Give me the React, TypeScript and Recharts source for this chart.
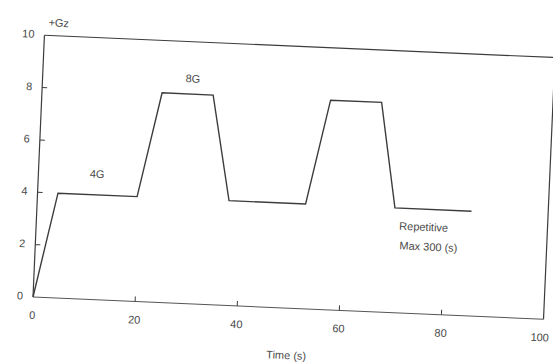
import React from "react";
import { LineChart, Line, XAxis, YAxis, ReferenceLine, ReferenceDot } from "recharts";

// G profile (time in s, +Gz level)
const timeSec = [0, 4, 19.5, 23.5, 33.5, 37.5, 52.5, 56.5, 66.5, 70, 85];
const gzLevel = [0, 4, 4, 8, 8, 4, 4, 8, 8, 4, 4];
const xTicks = [0, 20, 40, 60, 80, 100];
const yTicks = [0, 2, 4, 6, 8, 10];

const INK = "#3c3c3c";
const TEXT = "#4a4a4a";
const FONT = "'Liberation Sans', Arial, sans-serif";

const data = timeSec.map((t, i) => ({ t, g: gzLevel[i] }));

const YTick = (props: any) => {
    const { x, y, payload } = props;
    const v = payload.value;
    return (
        <g>
            {v > 0 && v < 10 && (
                <line x1={x} x2={x + 5} y1={y} y2={y} stroke={INK} strokeWidth={1} />
            )}
            <text x={x - 10} y={y} dy={3} textAnchor="end" fontSize={11} fill={TEXT} fontFamily={FONT}>
                {v}
            </text>
        </g>
    );
};

const XTick = (props: any) => {
    const { x, y, payload } = props;
    const v = payload.value;
    return (
        <g>
            {v > 0 && v < 100 && (
                <line x1={x} x2={x} y1={y} y2={y - 5} stroke={INK} strokeWidth={1} />
            )}
            <text x={x} y={y + 22} textAnchor="middle" fontSize={11} fill={TEXT} fontFamily={FONT}>
                {v}
            </text>
        </g>
    );
};

// text placed at a data point
const note = (text: string, anchor: "start" | "middle" | "end") => (props: any) => (
    <text
        x={props.cx}
        y={props.cy}
        dy={4}
        textAnchor={anchor}
        fontSize={11}
        fill={TEXT}
        fontFamily={FONT}
    >
        {text}
    </text>
);

export default function App() {
    return (
        <div
            style={{
                position: "absolute",
                left: 0,
                top: 0,
                width: 553,
                height: 363,
                overflow: "hidden",
                background: "#fff",
            }}
        >
            {/* the scan is slightly turned, so the whole chart is too */}
            <div style={{ transform: "rotate(2.5deg)", transformOrigin: "33px 297px" }}>
                <LineChart
                    width={553}
                    height={363}
                    data={data}
                    margin={{ top: 35, right: 9, left: 3, bottom: 12 }}
                >
                    <XAxis
                        dataKey="t"
                        type="number"
                        domain={[0, 100]}
                        ticks={xTicks}
                        tick={<XTick />}
                        tickSize={0}
                        tickMargin={0}
                        tickLine={false}
                        height={54}
                        axisLine={{ stroke: "#555", strokeWidth: 1 }}
                        label={{
                            value: "Time (s)",
                            position: "insideBottom",
                            offset: 3,
                            fontSize: 11,
                            fill: TEXT,
                            fontFamily: FONT,
                        }}
                    />
                    <YAxis
                        type="number"
                        domain={[0, 10]}
                        ticks={yTicks}
                        tick={<YTick />}
                        tickSize={0}
                        tickMargin={0}
                        tickLine={false}
                        width={30}
                        axisLine={{ stroke: INK, strokeWidth: 1.2 }}
                    />
                    <ReferenceLine y={10} stroke={INK} strokeWidth={1.2} />
                    <ReferenceLine x={100} stroke={INK} strokeWidth={1.2} />
                    <ReferenceDot x={0.7} y={10.5} r={0} ifOverflow="visible" shape={note("+Gz", "start")} />
                    <ReferenceDot x={11.5} y={4.8} r={0} ifOverflow="visible" shape={note("4G", "middle")} />
                    <ReferenceDot x={29.4} y={8.6} r={0} ifOverflow="visible" shape={note("8G", "middle")} />
                    <ReferenceDot x={71} y={3.33} r={0} ifOverflow="visible" shape={note("Repetitive", "start")} />
                    <ReferenceDot x={71.2} y={2.58} r={0} ifOverflow="visible" shape={note("Max 300 (s)", "start")} />
                    <Line
                        type="linear"
                        dataKey="g"
                        stroke={INK}
                        strokeWidth={1.4}
                        dot={false}
                        isAnimationActive={false}
                    />
                </LineChart>
            </div>
        </div>
    );
}
